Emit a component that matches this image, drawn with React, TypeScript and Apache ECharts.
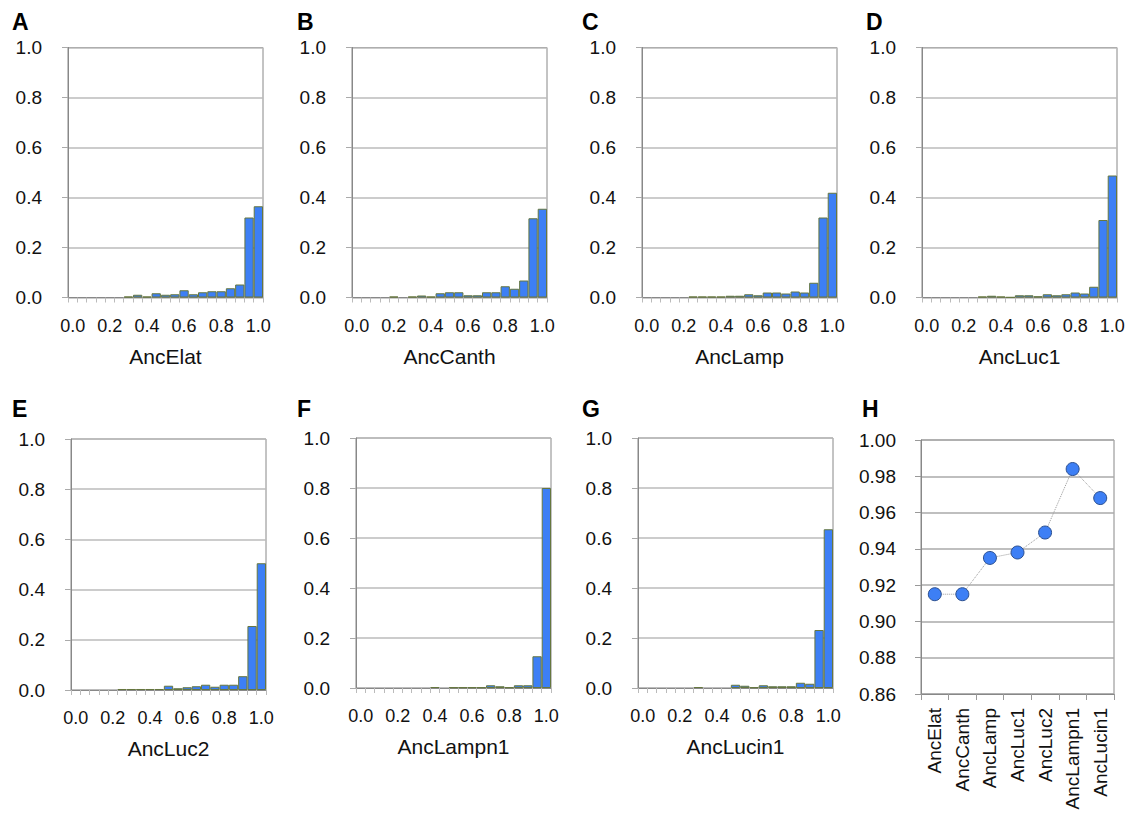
import React, { useEffect, useRef } from 'react';
import * as echarts from 'echarts';

const binLabels = ['0.00', '0.05', '0.10', '0.15', '0.20', '0.25', '0.30', '0.35', '0.40', '0.45', '0.50',
  '0.55', '0.60', '0.65', '0.70', '0.75', '0.80', '0.85', '0.90', '0.95', '1.00'];

const ancElat = [0, 0, 0, 0, 0, 0, 0.004, 0.011, 0.004, 0.017, 0.011, 0.013, 0.029, 0.013, 0.021, 0.025, 0.025, 0.037, 0.052, 0.32, 0.365];
const ancCanth = [0, 0, 0, 0, 0.004, 0, 0.004, 0.008, 0.004, 0.017, 0.021, 0.021, 0.009, 0.009, 0.021, 0.021, 0.045, 0.035, 0.068, 0.317, 0.355];
const ancLamp = [0, 0, 0, 0, 0, 0.004, 0.004, 0.004, 0.004, 0.007, 0.007, 0.013, 0.009, 0.02, 0.02, 0.016, 0.024, 0.02, 0.059, 0.32, 0.419];
const ancLuc1 = [0, 0, 0, 0, 0, 0, 0.004, 0.007, 0.004, 0.001, 0.009, 0.009, 0.005, 0.013, 0.009, 0.013, 0.02, 0.016, 0.043, 0.31, 0.488];
const ancLuc2 = [0, 0, 0, 0, 0, 0.004, 0.004, 0.004, 0.004, 0.004, 0.017, 0.007, 0.011, 0.015, 0.021, 0.013, 0.021, 0.021, 0.055, 0.255, 0.505];
const ancLampn1 = [0, 0, 0, 0, 0, 0, 0, 0, 0.004, 0, 0.003, 0.003, 0.003, 0.003, 0.011, 0.007, 0.003, 0.011, 0.011, 0.127, 0.8];
const ancLucin1 = [0, 0, 0, 0, 0, 0, 0.004, 0, 0, 0, 0.013, 0.009, 0.003, 0.011, 0.007, 0.007, 0.007, 0.021, 0.017, 0.232, 0.635];

const ancestorNames = ['AncElat', 'AncCanth', 'AncLamp', 'AncLuc1', 'AncLuc2', 'AncLampn1', 'AncLucin1'];
const meanScores = [0.915, 0.915, 0.935, 0.938, 0.949, 0.984, 0.968];

const FONT = '"Liberation Sans", Arial, sans-serif';
const BAR = '#3d7ff5';
const BAR_BORDER = '#66773f';

const histPanels = [
  { letter: 'A', title: 'AncElat', data: ancElat, grid: { left: 68, top: 47.5, width: 195, height: 250 }, lp: [12, 22] },
  { letter: 'B', title: 'AncCanth', data: ancCanth, grid: { left: 352, top: 47.5, width: 195, height: 250 }, lp: [297, 22] },
  { letter: 'C', title: 'AncLamp', data: ancLamp, grid: { left: 642, top: 47.5, width: 195, height: 250 }, lp: [582, 22] },
  { letter: 'D', title: 'AncLuc1', data: ancLuc1, grid: { left: 922, top: 47.5, width: 195, height: 250 }, lp: [866, 22] },
  { letter: 'E', title: 'AncLuc2', data: ancLuc2, grid: { left: 71, top: 439, width: 195, height: 251 }, lp: [12, 409] },
  { letter: 'F', title: 'AncLampn1', data: ancLampn1, grid: { left: 356, top: 438, width: 195, height: 250 }, lp: [297, 409] },
  { letter: 'G', title: 'AncLucin1', data: ancLucin1, grid: { left: 638, top: 438, width: 195, height: 250 }, lp: [582, 409] },
];

const hGrid = { left: 921, top: 440, width: 193, height: 254 };

export default function App() {
  const ref = useRef<HTMLDivElement>(null);

  useEffect(() => {
    if (!ref.current) return;
    const chart = echarts.init(ref.current, undefined, { renderer: 'svg' });

    const grids: any[] = [];
    const xAxes: any[] = [];
    const yAxes: any[] = [];
    const series: any[] = [];
    const graphics: any[] = [];

    histPanels.forEach((p, i) => {
      grids.push({ ...p.grid, show: true, borderColor: '#888', borderWidth: 1, backgroundColor: 'transparent' });
      xAxes.push({
        type: 'category',
        gridIndex: i,
        data: binLabels,
        boundaryGap: true,
        name: p.title,
        nameLocation: 'middle',
        nameGap: 48,
        nameTextStyle: { fontFamily: FONT, fontSize: 21, color: '#111' },
        axisLine: { show: true, lineStyle: { color: '#888', width: 1 } },
        axisTick: { show: true, interval: 0, length: 5, lineStyle: { color: '#bbb' } },
        axisLabel: {
          interval: 3,
          margin: 19,
          fontFamily: FONT,
          fontSize: 18,
          color: '#111',
          formatter: (v: string) => Number(v).toFixed(1),
        },
        splitLine: { show: false },
      });
      yAxes.push({
        type: 'value',
        gridIndex: i,
        min: 0,
        max: 1,
        interval: 0.2,
        axisLine: { show: true, lineStyle: { color: '#888', width: 1 } },
        axisTick: { show: true, length: 6, lineStyle: { color: '#aaa' } },
        axisLabel: {
          margin: 26,
          fontFamily: FONT,
          fontSize: 19,
          color: '#111',
          formatter: (v: number) => v.toFixed(1),
        },
        splitLine: { show: true, lineStyle: { color: '#bbb', width: 1.5 } },
      });
      series.push({
        type: 'bar',
        xAxisIndex: i,
        yAxisIndex: i,
        data: p.data.map((v) => (v === 0 ? '-' : v)),
        barCategoryGap: '0%',
        itemStyle: { color: BAR, borderColor: BAR_BORDER, borderWidth: 1 },
      });
      graphics.push({
        type: 'text',
        x: p.lp[0],
        y: p.lp[1],
        style: { text: p.letter, fontFamily: FONT, fontWeight: 'bold', fontSize: 23, fill: '#000', verticalAlign: 'middle' },
      });
    });

    const hi = histPanels.length;
    grids.push({ ...hGrid, show: true, borderColor: '#888', borderWidth: 1, backgroundColor: 'transparent' });
    xAxes.push({
      type: 'category',
      gridIndex: hi,
      data: ancestorNames,
      boundaryGap: true,
      axisLine: { show: true, lineStyle: { color: '#888', width: 1 } },
      axisTick: { show: true, interval: 0, length: 6, lineStyle: { color: '#999' } },
      axisLabel: { interval: 0, rotate: 90, margin: 14, fontFamily: FONT, fontSize: 19, color: '#111' },
      splitLine: { show: false },
    });
    yAxes.push({
      type: 'value',
      gridIndex: hi,
      min: 0.86,
      max: 1.0,
      interval: 0.02,
      axisLine: { show: true, lineStyle: { color: '#888', width: 1 } },
      axisTick: { show: true, length: 6, lineStyle: { color: '#999' } },
      axisLabel: {
        margin: 25,
        fontFamily: FONT,
        fontSize: 19,
        color: '#111',
        formatter: (v: number) => v.toFixed(2),
      },
      splitLine: { show: true, lineStyle: { color: '#aaa', width: 1.5 } },
    });
    series.push({
      type: 'line',
      xAxisIndex: hi,
      yAxisIndex: hi,
      data: meanScores,
      symbol: 'circle',
      symbolSize: 13,
      lineStyle: { color: '#999', width: 1, type: 'dotted' },
      itemStyle: { color: BAR, borderColor: '#2b4f8f', borderWidth: 1 },
    });
    graphics.push({
      type: 'text',
      x: 862,
      y: 409,
      style: { text: 'H', fontFamily: FONT, fontWeight: 'bold', fontSize: 23, fill: '#000', verticalAlign: 'middle' },
    });

    chart.setOption({
      animation: false,
      backgroundColor: '#fff',
      grid: grids,
      xAxis: xAxes,
      yAxis: yAxes,
      series,
      graphic: graphics,
    });

    return () => chart.dispose();
  }, []);

  return (
    <div
      ref={ref}
      style={{ position: 'absolute', left: 0, top: 0, width: 1131, height: 814, background: '#fff' }}
    />
  );
}
